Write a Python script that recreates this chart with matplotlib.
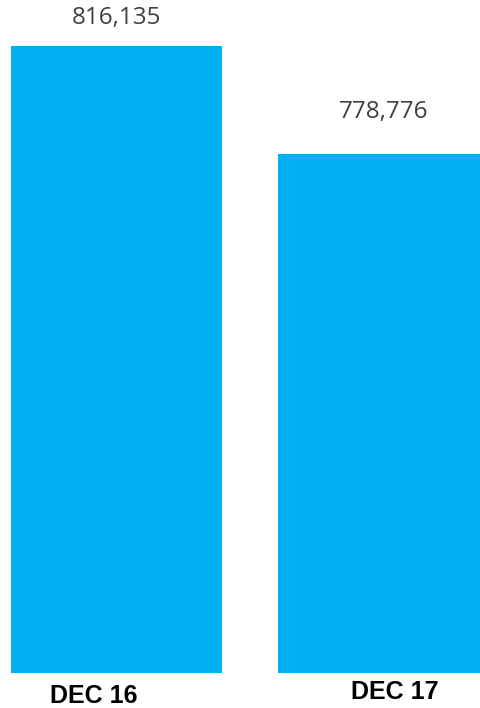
import matplotlib
matplotlib.use("Agg")
import matplotlib.pyplot as plt

# data
categories = ["DEC 16", "DEC 17"]
values = [816135, 778776]

BAR_COLOR = "#00B0F0"
TEXT_COLOR = "#404040"

fig = plt.figure(figsize=(4.81, 7.08), dpi=100)
ax = fig.add_axes([0, 35 / 708, 1, 673 / 708])

x = range(len(categories))
ax.bar(x, values, width=0.79, color=BAR_COLOR)
ax.set_xlim(-0.4363, 1.3652)
ax.set_ylim(600000, 832000)
ax.axis("off")

# value labels (offsets in pixels above bar top)
val_off = [28, 42]
for i, v in enumerate(values):
    ax.annotate(f"{v:,}", xy=(i, v), xytext=(0, val_off[i] * 0.72),
                textcoords="offset points", ha="center", va="center",
                fontsize=17.5, color=TEXT_COLOR, family=["Open Sans", "DejaVu Sans"])

# category labels below the axis
cat_off = [(-23, -23), (11, -19)]
for i, c in enumerate(categories):
    dx, dy = cat_off[i]
    ax.annotate(c, xy=(i, 0), xycoords=("data", "axes fraction"),
                xytext=(dx * 0.72, dy * 0.72), textcoords="offset points",
                ha="center", va="center", fontsize=18, fontweight="bold",
                color="black", family=["Liberation Sans", "DejaVu Sans"],
                annotation_clip=False)

fig.savefig("out.png", dpi=100)
